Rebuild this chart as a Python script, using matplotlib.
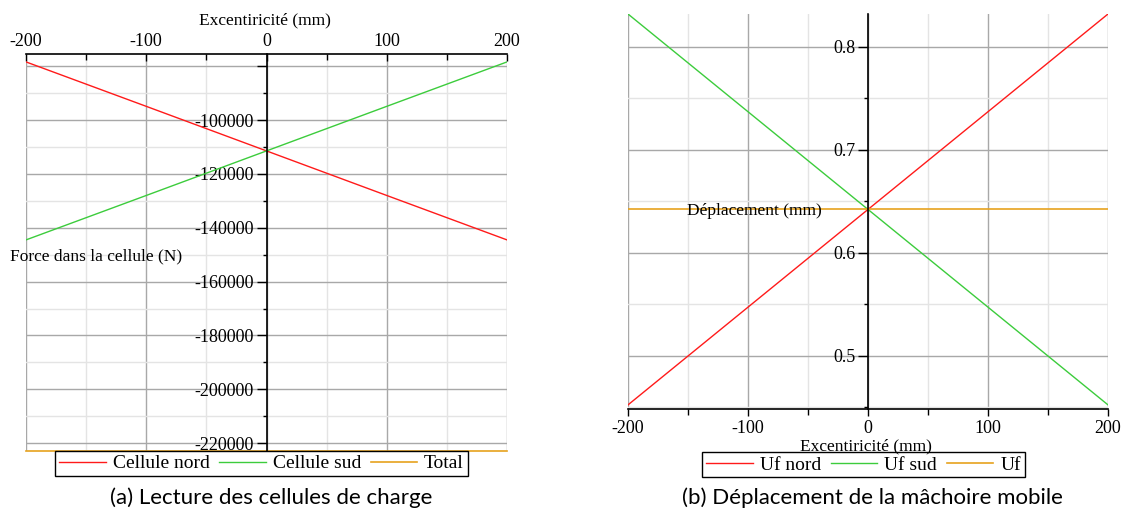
import matplotlib
matplotlib.use("Agg")
import matplotlib.pyplot as plt
from matplotlib.ticker import MultipleLocator, FuncFormatter

# Eccentricity values (mm)
excentricite = [-200, -100, 0, 100, 200]

# (a) Load-cell forces (N)
cellule_nord = [-78400, -94900, -111450, -128000, -144500]
cellule_sud = [-144500, -128000, -111450, -94900, -78400]
total = [-222900, -222900, -222900, -222900, -222900]

# (b) Displacement of the moving jaw (mm)
uf_nord = [0.452, 0.547, 0.642, 0.737, 0.832]
uf_sud = [0.832, 0.737, 0.642, 0.547, 0.452]
uf = [0.642, 0.642, 0.642, 0.642, 0.642]

labels_a = ["Cellule nord", "Cellule sud", "Total"]
labels_b = ["Uf nord", "Uf sud", "Uf"]

RED = "#ff1a1a"
GREEN = "#3ccc3c"
ORANGE = "#e6a21e"
MAJ = "#a8a8a8"
MIN = "#e4e4e4"

plt.rcParams["font.family"] = ["Liberation Serif", "DejaVu Serif"]
plt.rcParams["axes.unicode_minus"] = False

W, H = 1126, 512
fig = plt.figure(figsize=(W / 100, H / 100), dpi=100)


def rect(x0, y0, x1, y1):
    return [x0 / W, 1 - y1 / H, (x1 - x0) / W, (y1 - y0) / H]


def style_grid(ax):
    ax.grid(which="major", color=MAJ, linewidth=1.0)
    ax.grid(which="minor", color=MIN, linewidth=1.0)
    ax.set_axisbelow(True)
    ax.xaxis.set_major_locator(MultipleLocator(100))
    ax.xaxis.set_minor_locator(MultipleLocator(50))
    ax.set_xlim(-200, 200)
    ax.spines["right"].set_visible(False)
    ax.spines["left"].set_position(("data", 0))
    ax.spines["left"].set_linewidth(1.2)
    ax.tick_params(axis="y", which="major", direction="out", length=7, width=1, labelsize=13, pad=2)
    ax.tick_params(axis="y", which="minor", direction="out", length=3, width=1)


# ---------- (a) ----------
axa = fig.add_axes(rect(26, 54, 507, 451))
style_grid(axa)
axa.plot(excentricite, cellule_nord, color=RED, lw=1.0, label=labels_a[0])
axa.plot(excentricite, cellule_sud, color=GREEN, lw=1.0, label=labels_a[1])
axa.plot(excentricite, total, color=ORANGE, lw=1.2, label=labels_a[2], clip_on=False)
axa.set_ylim(-222900, -75460)
axa.yaxis.set_major_locator(MultipleLocator(20000))
axa.yaxis.set_minor_locator(MultipleLocator(10000))
axa.yaxis.set_major_formatter(FuncFormatter(lambda v, p: "" if v > -90000 else f"{v:.0f}"))
axa.spines["bottom"].set_visible(False)
axa.spines["top"].set_linewidth(1.2)
axa.xaxis.tick_top()
axa.tick_params(axis="x", which="major", direction="in", length=5, width=1, labelsize=13, pad=3)
axa.tick_params(axis="x", which="minor", direction="in", length=4, width=1)
fig.text(265 / W, 1 - 20 / H, "Excentiricité (mm)", ha="center", va="center", fontsize=12.5)
fig.text(10 / W, 1 - 256 / H, "Force dans la cellule (N)", ha="left", va="center", fontsize=12.5)

leg_a = axa.legend(loc="upper center", bbox_to_anchor=(261.5 / W, 1 - 451 / H),
                   bbox_transform=fig.transFigure, ncol=3, fontsize=14, frameon=True,
                   fancybox=False, edgecolor="black", framealpha=1, handlelength=2.4,
                   handletextpad=0.35, columnspacing=0.5, borderpad=0.2, borderaxespad=0)
leg_a.get_frame().set_linewidth(1.0)

# ---------- (b) ----------
axb = fig.add_axes(rect(628, 14, 1108, 409))
style_grid(axb)
axb.plot(excentricite, uf_nord, color=RED, lw=1.0, label=labels_b[0])
axb.plot(excentricite, uf_sud, color=GREEN, lw=1.0, label=labels_b[1])
axb.plot(excentricite, uf, color=ORANGE, lw=1.2, label=labels_b[2])
axb.set_ylim(0.448, 0.832)
axb.yaxis.set_major_locator(MultipleLocator(0.1))
axb.yaxis.set_minor_locator(MultipleLocator(0.05))
axb.spines["top"].set_visible(False)
axb.spines["bottom"].set_linewidth(1.2)
axb.tick_params(axis="x", which="major", direction="out", length=5, width=1, labelsize=13, pad=3)
axb.tick_params(axis="x", which="minor", direction="out", length=4, width=1)
fig.text(866 / W, 1 - 446 / H, "Excentiricité (mm)", ha="center", va="center", fontsize=12.5)
fig.text(754 / W, 1 - 211 / H, "Déplacement (mm)", ha="center", va="center", fontsize=12.5)

leg_b = axb.legend(loc="upper center", bbox_to_anchor=(863.5 / W, 1 - 452 / H),
                   bbox_transform=fig.transFigure, ncol=3, fontsize=14, frameon=True,
                   fancybox=False, edgecolor="black", framealpha=1, handlelength=2.4,
                   handletextpad=0.35, columnspacing=0.5, borderpad=0.2, borderaxespad=0)
leg_b.get_frame().set_linewidth(1.0)

# ---------- captions ----------
fig.text(271 / W, 1 - 498 / H, "(a) Lecture des cellules de charge", ha="center", va="center",
         fontsize=16, family=["Lato", "DejaVu Sans"])
fig.text(872 / W, 1 - 498 / H, "(b) Déplacement de la mâchoire mobile", ha="center", va="center",
         fontsize=16, family=["Lato", "DejaVu Sans"])

fig.savefig("out.png", dpi=100, facecolor="white")
